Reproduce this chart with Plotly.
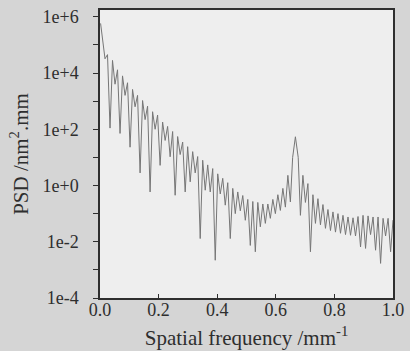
import plotly.graph_objects as go

# Spatial frequency (mm^-1) (peaks and troughs of the oscillating PSD)
freq = [
    0.002, 0.0085, 0.0171, 0.0256, 0.0342, 0.0427, 0.0513, 0.0598, 0.0684, 0.0769,
    0.0855, 0.094, 0.1026, 0.1111, 0.1197, 0.1282, 0.1368, 0.1453, 0.1539, 0.1624,
    0.171, 0.1795, 0.1881, 0.1966, 0.2052, 0.2137, 0.2223, 0.2308, 0.2394, 0.2479,
    0.2565, 0.265, 0.2736, 0.2821, 0.2907, 0.2992, 0.3078, 0.3163, 0.3249, 0.3334,
    0.342, 0.3505, 0.3591, 0.3676, 0.3762, 0.3847, 0.3933, 0.4018, 0.4104, 0.4189,
    0.4275, 0.436, 0.4446, 0.4531, 0.4617, 0.4702, 0.4788, 0.4873, 0.4959, 0.5044,
    0.513, 0.5215, 0.5301, 0.5386, 0.5472, 0.5557, 0.5643, 0.5728, 0.5814, 0.5899,
    0.5985, 0.607, 0.6156, 0.6241, 0.6327, 0.6412, 0.6498, 0.6575, 0.6669, 0.6765,
    0.684, 0.6925, 0.7011, 0.7096, 0.7182, 0.7267, 0.7353, 0.7438, 0.7524, 0.7609,
    0.7695, 0.778, 0.7866, 0.7951, 0.8037, 0.8122, 0.8208, 0.8293, 0.8379, 0.8464,
    0.855, 0.8635, 0.8721, 0.8806, 0.8892, 0.8977, 0.9063, 0.9148, 0.9234, 0.9319,
    0.9405, 0.949, 0.9576, 0.9661, 0.9747, 0.9832, 0.9918, 1.0,
]

# PSD (nm^2.mm)
psd = [
    5.8e5, 1.3e5, 3.2e4, 4.5e4, 1.1e2, 2.8e4, 4.0e3, 1.3e4, 71, 7.9e3,
    1.6e3, 4.5e3, 23, 2.6e3, 630, 1.6e3, 2.8, 1.05e3, 220, 660,
    0.59, 420, 100, 320, 5.2, 180, 40, 126, 10.5, 83,
    0.45, 55, 12.6, 35, 0.59, 24, 1.35, 16, 2.8, 10.7,
    0.013, 7.9, 0.68, 5.4, 0.59, 4.0, 0.0022, 2.6, 0.5, 1.8,
    0.2, 1.26, 0.013, 0.79, 0.1, 0.59, 0.126, 0.44, 0.058, 0.32,
    0.0074, 0.27, 0.0044, 0.25, 0.034, 0.22, 0.045, 0.22, 0.068, 0.32,
    0.1, 0.47, 0.13, 0.79, 0.17, 2.3, 0.26, 10, 54, 10,
    0.087, 2.3, 0.25, 1.17, 0.0044, 0.47, 0.045, 0.34, 0.04, 0.21,
    0.03, 0.14, 0.025, 0.115, 0.022, 0.1, 0.02, 0.087, 0.018, 0.076,
    0.017, 0.071, 0.016, 0.079, 0.0065, 0.087, 0.0058, 0.083, 0.018, 0.076,
    0.005, 0.076, 0.0017, 0.068, 0.016, 0.068, 0.0044, 0.059,
]

x_ticks = [0.0, 0.2, 0.4, 0.6, 0.8, 1.0]
x_tick_labels = ["0.0", "0.2", "0.4", "0.6", "0.8", "1.0"]
y_ticks = [1e-4, 1e-2, 1e0, 1e2, 1e4, 1e6]
y_tick_labels = ["1e-4", "1e-2", "1e+0", "1e+2", "1e+4", "1e+6"]
y_minor_ticks = [1e-3, 1e-1, 1e1, 1e3, 1e5]

ink = "#2e2e2e"
paper = "#d5d5d5"
serif = "Liberation Serif, Times New Roman, serif"

fig = go.Figure(
    go.Scatter(
        x=freq, y=psd, mode="lines",
        line=dict(color="#767676", width=1),
        hoverinfo="skip",
    )
)

fig.update_layout(
    width=410, height=351,
    margin=dict(l=100, r=17, t=10, b=53, autoexpand=False),
    paper_bgcolor=paper,
    plot_bgcolor="#eeeeee",
    showlegend=False,
    font=dict(family=serif, color=ink, size=16),
)

fig.update_xaxes(
    automargin=False,
    range=[0, 1.0],
    tickvals=x_ticks, ticktext=x_tick_labels,
    ticks="inside", ticklen=4, tickwidth=1.2, tickcolor=ink,
    ticklabelstandoff=-5,
    showline=True, linecolor=ink, linewidth=1.5, mirror=True,
    showgrid=False, zeroline=False,
    tickfont=dict(size=18, family=serif, color=ink),
    title=dict(text="Spatial frequency /mm<sup>-1</sup>",
               font=dict(size=21, family=serif, color=ink), standoff=11),
)

fig.update_yaxes(
    automargin=False,
    type="log", range=[-4, 6.24],
    tickvals=y_ticks, ticktext=y_tick_labels,
    ticks="outside", ticklen=5, tickwidth=1.2, tickcolor=ink,
    minor=dict(tickvals=y_minor_ticks, ticks="outside", ticklen=5,
               tickwidth=1.2, tickcolor=ink, showgrid=False),
    ticklabelstandoff=11,
    showline=True, linecolor=ink, linewidth=1.5, mirror=True,
    showgrid=False, zeroline=False,
    tickfont=dict(size=18, family=serif, color=ink),
    title=dict(text="PSD /nm<sup>2</sup>.mm",
               font=dict(size=21, family=serif, color=ink), standoff=8),
)

fig.write_html(
    "out.html",
    config={"displayModeBar": False},
    post_script="document.body.style.margin='0';document.body.style.background='%s';" % paper,
)
